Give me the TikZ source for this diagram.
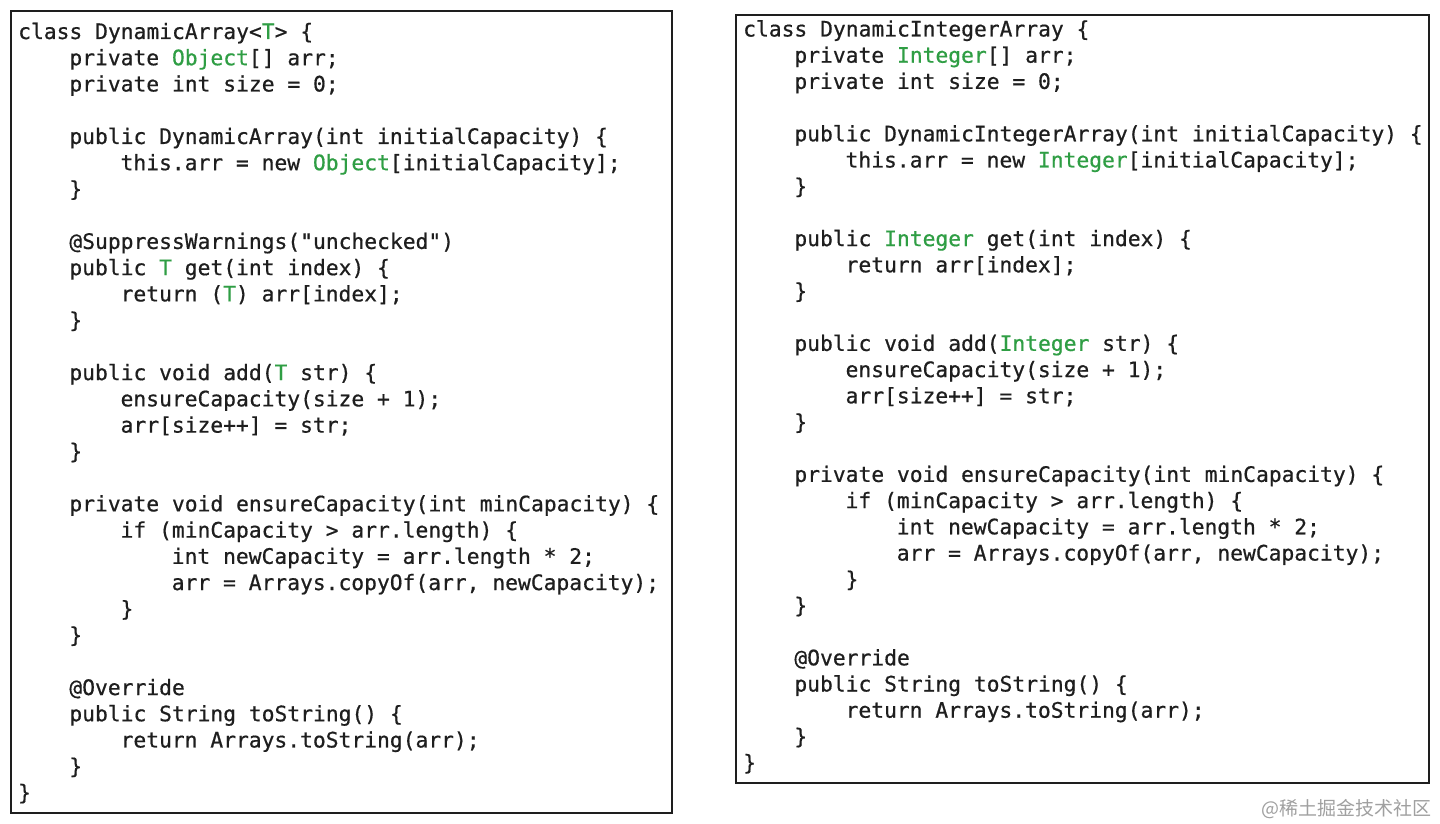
\documentclass[tikz,border=0pt]{standalone}
\usepackage{fontspec}
\newfontfamily\codefont{DejaVu Sans Mono}[FakeBold=0.6]
\newfontfamily\cjk{Noto Sans CJK SC}
\definecolor{ink}{HTML}{1E1E1E}
\definecolor{grn}{HTML}{2F9E44}
\definecolor{wmgray}{HTML}{A0A0A0}
\newcommand\G[1]{\textcolor{grn}{#1}}
\tikzset{
  code/.style={anchor=base west, inner sep=0pt, text=ink, font=\codefont\fontsize{21.3pt}{26pt}\selectfont},
  panel/.style={draw=ink, line width=2pt, fill=none},
  wm/.style={anchor=base east, inner sep=0pt, text=wmgray, font=\cjk\fontsize{19pt}{22pt}\selectfont}
}
% left line: name, line number, indent chars, text
\newcommand\LL[4]{\node[code] (#1) at ({18+#3*12.8},{39+(#2-1)*26.24}) {#4};}
\newcommand\RL[4]{\node[code] (#1) at ({743+#3*12.8},{36.5+(#2-1)*26.2}) {#4};}
\begin{document}
\begin{tikzpicture}[x=1pt,y=-1pt]
\useasboundingbox[fill=white] (0,0) rectangle (1440,824);
% panels
\draw[panel] (10.5,11) rectangle (672,812.5);
\draw[panel] (735.5,15) rectangle (1429,783);
% left code
\LL{L1}{1}{0}{class DynamicArray<\G{T}> \{}
\LL{L2}{2}{4}{private \G{Object}[] arr;}
\LL{L3}{3}{4}{private int size = 0;}
\LL{L5}{5}{4}{public DynamicArray(int initialCapacity) \{}
\LL{L6}{6}{8}{this.arr = new \G{Object}[initialCapacity];}
\LL{L7}{7}{4}{\}}
\LL{L9}{9}{4}{@SuppressWarnings("unchecked")}
\LL{L10}{10}{4}{public \G{T} get(int index) \{}
\LL{L11}{11}{8}{return (\G{T}) arr[index];}
\LL{L12}{12}{4}{\}}
\LL{L14}{14}{4}{public void add(\G{T} str) \{}
\LL{L15}{15}{8}{ensureCapacity(size + 1);}
\LL{L16}{16}{8}{arr[size++] = str;}
\LL{L17}{17}{4}{\}}
\LL{L19}{19}{4}{private void ensureCapacity(int minCapacity) \{}
\LL{L20}{20}{8}{if (minCapacity > arr.length) \{}
\LL{L21}{21}{12}{int newCapacity = arr.length * 2;}
\LL{L22}{22}{12}{arr = Arrays.copyOf(arr, newCapacity);}
\LL{L23}{23}{8}{\}}
\LL{L24}{24}{4}{\}}
\LL{L26}{26}{4}{@Override}
\LL{L27}{27}{4}{public String toString() \{}
\LL{L28}{28}{8}{return Arrays.toString(arr);}
\LL{L29}{29}{4}{\}}
\LL{L30}{30}{0}{\}}
% right code
\RL{R1}{1}{0}{class DynamicIntegerArray \{}
\RL{R2}{2}{4}{private \G{Integer}[] arr;}
\RL{R3}{3}{4}{private int size = 0;}
\RL{R5}{5}{4}{public DynamicIntegerArray(int initialCapacity) \{}
\RL{R6}{6}{8}{this.arr = new \G{Integer}[initialCapacity];}
\RL{R7}{7}{4}{\}}
\RL{R9}{9}{4}{public \G{Integer} get(int index) \{}
\RL{R10}{10}{8}{return arr[index];}
\RL{R11}{11}{4}{\}}
\RL{R13}{13}{4}{public void add(\G{Integer} str) \{}
\RL{R14}{14}{8}{ensureCapacity(size + 1);}
\RL{R15}{15}{8}{arr[size++] = str;}
\RL{R16}{16}{4}{\}}
\RL{R18}{18}{4}{private void ensureCapacity(int minCapacity) \{}
\RL{R19}{19}{8}{if (minCapacity > arr.length) \{}
\RL{R20}{20}{12}{int newCapacity = arr.length * 2;}
\RL{R21}{21}{12}{arr = Arrays.copyOf(arr, newCapacity);}
\RL{R22}{22}{8}{\}}
\RL{R23}{23}{4}{\}}
\RL{R25}{25}{4}{@Override}
\RL{R26}{26}{4}{public String toString() \{}
\RL{R27}{27}{8}{return Arrays.toString(arr);}
\RL{R28}{28}{4}{\}}
\RL{R29}{29}{0}{\}}
% watermark
\node[wm] (wm) at (1432,815) {@稀土掘金技术社区};
\end{tikzpicture}
\end{document}
